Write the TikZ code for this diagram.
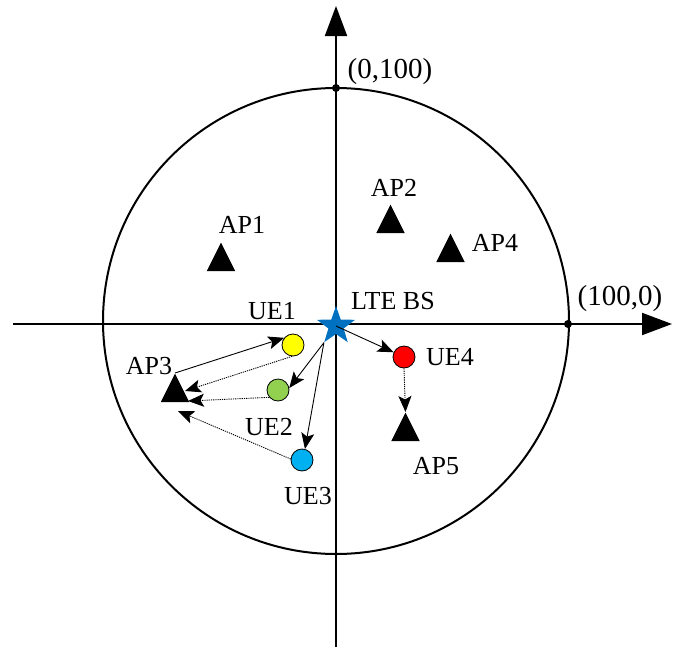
\documentclass[tikz,border=0pt]{standalone}
\usepackage{fontspec}
\setmainfont{Liberation Serif}
\usetikzlibrary{shapes.geometric,arrows.meta}
\definecolor{bsblue}{RGB}{0,112,192}
\definecolor{ueyellow}{RGB}{255,255,0}
\definecolor{uegreen}{RGB}{146,208,80}
\definecolor{uecyan}{RGB}{0,176,240}
\definecolor{uered}{RGB}{255,0,0}
\begin{document}
\begin{tikzpicture}[x=1pt,y=-1pt,
  axis/.style={line width=2pt,-{Triangle[length=30pt,width=22pt]}},
  lbl/.style={inner sep=0pt,font=\fontsize{26}{31}\selectfont},
  coordlbl/.style={inner sep=0pt,font=\fontsize{29}{34}\selectfont},
  ap/.style={isosceles triangle,isosceles triangle stretches,shape border rotate=90,
    minimum height=28.5pt,minimum width=28.5pt,inner sep=0pt,fill=black,anchor=apex},
  ue/.style={circle,draw=black,line width=0.8pt,minimum size=22pt,inner sep=0pt},
  dot/.style={circle,fill=black,inner sep=0pt,minimum size=8pt},
  link/.style={line width=0.9pt,-{Stealth[length=16pt,width=13pt,inset=3.5pt]}},
  weak/.style={link,dash pattern=on 1.2pt off 1pt}]
\useasboundingbox (0,0) rectangle (686,654);

% coverage circle and axes
\draw[line width=2pt] (336,321) circle (233pt);
\coordinate (xl) at (13,324);
\coordinate (xr) at (672,324);
\coordinate (yb) at (336,647);
\coordinate (yt) at (336,6);
\draw[axis] (xl) -- (xr);
\draw[axis] (yb) -- (yt);
\node[dot] (p0100) at (336,88) {};
\node[dot] (p1000) at (568,324) {};
\node[coordlbl] at (390,72) {(0,100)};
\node[coordlbl] at (620,299) {(100,0)};

% access points
\node[ap] (ap1) at (221,242) {};
\node[ap] (ap2) at (390.5,204) {};
\node[ap] (ap3) at (175,373) {};
\node[ap] (ap4) at (450.5,233) {};
\node[ap] (ap5) at (405.5,412) {};
\node[lbl] at (242,225) {AP1};
\node[lbl] at (394,188) {AP2};
\node[lbl] at (149,366) {AP3};
\node[lbl] at (495,243) {AP4};
\node[lbl] at (436,466) {AP5};

% user equipment
\node[ue,fill=ueyellow] (ue1) at (293,345) {};
\node[ue,fill=uegreen] (ue2) at (278,390) {};
\node[ue,fill=uecyan] (ue3) at (302,460) {};
\node[ue,fill=uered] (ue4) at (404,357) {};
\node[lbl] at (272,311) {UE1};
\node[lbl] at (269,427) {UE2};
\node[lbl] at (308,496) {UE3};
\node[lbl] at (450,357) {UE4};

% base station
\node[star,star points=5,star point ratio=2.5,fill=bsblue,minimum size=40pt,inner sep=0pt] (bs) at (336,326) {};
\node[lbl] at (393,301) {LTE BS};

% tips ending at AP3
\coordinate (t1) at (185,391);
\coordinate (t2) at (188,401);
\coordinate (t3) at (178,411);

% links
\draw[link] (ap3.apex) -- (ue1.141);
\draw[weak] (ue1.265) -- (t1);
\draw[weak] (ue2.220) -- (t2);
\draw[weak] (ue3.175) -- (t3);
\draw[link] (bs.outer point 3) -- (ue2.10);
\draw[link] (bs.outer point 3) -- (ue3.75);
\draw[link] (bs.center) -- (ue4);
\draw[weak] (ue4.south) -- (ap5.apex);
\end{tikzpicture}
\end{document}
